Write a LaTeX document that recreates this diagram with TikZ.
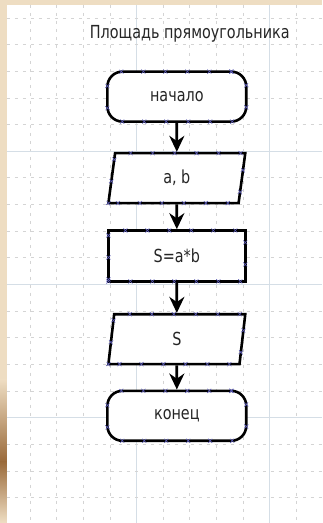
\documentclass[tikz,border=0pt]{standalone}
\usepackage{fontspec}
\setmainfont[FakeStretch=0.8]{DejaVu Sans}
\usetikzlibrary{shapes.geometric,arrows.meta,decorations.markings}
\definecolor{paper}{HTML}{EEDDC2}
\definecolor{wood}{HTML}{9A6A3A}
\definecolor{gridc}{HTML}{D4D4D4}
\definecolor{majorc}{HTML}{D5DEE6}
\definecolor{xcol}{HTML}{5A5AB4}
\definecolor{ink}{HTML}{262626}

\begin{document}
\begin{tikzpicture}[x=1pt,y=-1pt]
\tikzstyle{every node}+=[inner sep=0pt, text=ink, font=\fontsize{18}{20}\selectfont]
\tikzstyle{xmarks}=[postaction={decorate,decoration={markings,
  mark=between positions 0 and 1 step 22pt with {\draw[xcol,line width=0.6pt] (-2pt,-2pt) -- (2pt,2pt) (-2pt,2pt) -- (2pt,-2pt);}}}]
\tikzstyle{term}=[draw, line width=2.6pt, rounded corners=15pt, minimum width=139pt, minimum height=50pt, xmarks]
\tikzstyle{proc}=[draw, line width=2.6pt, minimum width=137pt, minimum height=51pt, xmarks]
\tikzstyle{io}=[draw, line width=2.6pt, trapezium, trapezium left angle=67, trapezium right angle=113, trapezium stretches body, minimum width=137pt, minimum height=50pt, xmarks]
\tikzstyle{flow}=[line width=2.8pt, -{Stealth[length=16pt,width=15pt]}]
\tikzstyle{minor}=[gridc, line width=0.8pt, dash pattern=on 3pt off 5pt]
\tikzstyle{major}=[majorc, line width=1pt]
% background and grid
\fill[paper] (0,0) rectangle (322,523);
\shade[top color=paper, bottom color=wood] (0,380) rectangle (7,462);
\shade[top color=wood, bottom color=paper] (0,462) rectangle (7,523);
\fill[white] (7,5) rectangle (322,523);
\foreach \i in {1,...,11} {
  \pgfmathsetmacro{\gx}{3.33+26.67*\i}
  \ifnum\i=5 \draw[major] (\gx,5) -- (\gx,523); \else \ifnum\i=10 \draw[major] (\gx,5) -- (\gx,523); \else \draw[minor] (\gx,5) -- (\gx,523); \fi\fi
}
\foreach \k in {0,...,18} {
  \pgfmathsetmacro{\gy}{18+26.67*\k}
  \ifnum\k=5 \draw[major] (7,\gy) -- (322,\gy); \else \ifnum\k=10 \draw[major] (7,\gy) -- (322,\gy); \else \ifnum\k=15 \draw[major] (7,\gy) -- (322,\gy); \else \draw[minor] (7,\gy) -- (322,\gy); \fi\fi\fi
}
% title
\node[anchor=base] (title) at (190,39) {Площадь прямоугольника};
% blocks
\node[term, fill=white] (start) at (177,96.7) {начало};
\node[io, fill=white] (input) at (177,178.3) {a, b};
\node[proc, fill=white] (calc) at (177,256.2) {S=a*b};
\node[io, fill=white] (output) at (177,339.5) {S};
\node[term, fill=white] (stop) at (177,416.2) {конец};
% arrows
\draw[flow] (start) -- (input);
\draw[flow] (input) -- (calc);
\draw[flow] (calc) -- (output);
\draw[flow] (output) -- (stop);
\end{tikzpicture}
\end{document}
